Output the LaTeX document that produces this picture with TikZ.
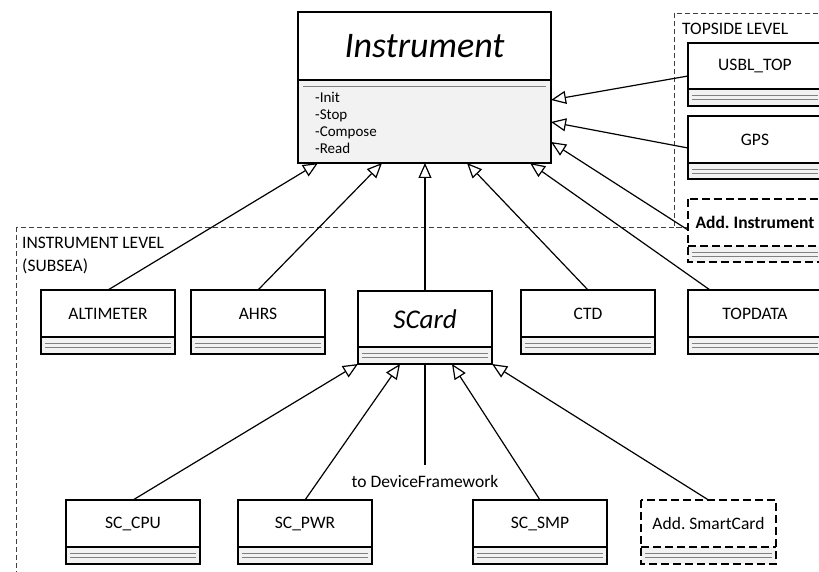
\documentclass[tikz,border=0pt]{standalone}
\usepackage{fontspec}
\setmainfont{Carlito}
\usetikzlibrary{arrows.meta}
\frenchspacing

\definecolor{bodyfill}{HTML}{F2F2F2}
\definecolor{rulegray}{HTML}{808080}
\definecolor{framegray}{HTML}{404040}

\newcommand\lblfont{\fontsize{17.5}{21}\selectfont}

\tikzset{
  frame/.style={draw=black, line width=1.3pt, line join=miter},
  dframe/.style={draw=black, line width=1.6pt, dash pattern=on 8pt off 4pt},
  bodyrule/.style={draw=rulegray, line width=0.8pt},
  container/.style={draw=framegray, line width=0.8pt, dash pattern=on 5pt off 3pt},
  anchorbox/.style={inner sep=0pt, outer sep=0pt, anchor=north west},
  lbl/.style={font=\lblfont, inner sep=0pt},
  meth/.style={font=\fontsize{15}{18}\selectfont, inner sep=0pt, anchor=base west},
  conn/.style={draw=black, line width=1.2pt},
  inherit/.style={conn, -{Triangle[length=15pt, width=13pt, fill=white]}, line join=miter},
}

% #1 name, #2 left, #3 top, #4 width, #5 head height, #6 body height,
% #7 label, #8 label font, #9 border style
\newcommand\umlclass[9]{%
  \fill[white] (#2,#3) rectangle ++(#4,#5);
  \fill[bodyfill] (#2,#3+#5) rectangle ++(#4,#6);
  \draw[bodyrule] (#2+4,#3+#5+6) -- ++(#4-8,0);
  \draw[bodyrule] (#2+4,#3+#5+10) -- ++(#4-8,0);
  \draw[#9] (#2,#3) rectangle ++(#4,#5+#6);
  \draw[#9] (#2,#3+#5) -- ++(#4,0);
  \node[anchorbox, minimum width=#4pt, minimum height=#5pt+#6pt] (#1) at (#2,#3) {};
  \node[lbl, font=#8] (#1-t) at (#2+#4/2,#3+#5/2) {#7};
}

\begin{document}
\begin{tikzpicture}[x=1pt, y=-1pt]
\useasboundingbox (0,0) rectangle (819,572);
\clip (0,0) rectangle (819,572);

% level containers
\draw[container] (674,13) rectangle (860,227);
\draw[container] (16,227) rectangle (860,620);
\node[lbl, anchor=west] (toplvl) at (682,29) {TOPSIDE LEVEL};
\node[lbl, anchor=west] (sublvl) at (22,243) {INSTRUMENT LEVEL};
\node[lbl, anchor=west] (sublvl2) at (22,266) {(SUBSEA)};

% abstract base class
\fill[white] (298,12) rectangle (551,80);
\fill[bodyfill] (298,80) rectangle (551,163);
\draw[bodyrule] (303,86) -- (546,86);
\draw[frame] (298,12) rectangle (551,163);
\draw[frame] (298,80) -- (551,80);
\node[anchorbox, minimum width=253pt, minimum height=151pt] (inst) at (298,12) {};
\node[font=\fontsize{36}{42}\selectfont\itshape, inner sep=0pt] (inst-t) at (424.5,46) {Instrument};
\node[meth] (m1) at (315,103) {-Init};
\node[meth] (m2) at (315,120) {-Stop};
\node[meth] (m3) at (315,137) {-Compose};
\node[meth] (m4) at (315,154) {-Read};

% topside instruments
\umlclass{usbl}{688}{43}{134}{46}{17}{USBL\_TOP}{\lblfont}{frame}
\umlclass{gps}{688}{116}{134}{47}{16}{GPS}{\lblfont}{frame}
\umlclass{addinst}{688}{199}{134}{47}{16}{Add. Instrument}{\lblfont\bfseries}{dframe}

% subsea instruments
\umlclass{alt}{41}{290}{134}{47}{17}{ALTIMETER}{\lblfont}{frame}
\umlclass{ahrs}{191}{290}{134}{47}{17}{AHRS}{\lblfont}{frame}
\umlclass{scard}{358}{291}{134}{56}{17}{SCard}{\fontsize{27}{32}\selectfont\itshape}{frame}
\umlclass{ctd}{521}{290}{134}{47}{17}{CTD}{\lblfont}{frame}
\umlclass{topdata}{688}{290}{134}{47}{17}{TOPDATA}{\lblfont}{frame}

% smart cards
\umlclass{cpu}{66}{500}{134}{47}{17}{SC\_CPU}{\lblfont}{frame}
\umlclass{pwr}{238}{500}{134}{47}{17}{SC\_PWR}{\lblfont}{frame}
\umlclass{smp}{473}{500}{134}{47}{17}{SC\_SMP}{\lblfont}{frame}
\umlclass{addsc}{641}{500}{135}{47}{17}{Add. SmartCard}{\lblfont}{dframe}

% generalisations to Instrument
\draw[inherit] (alt.north) -- ([xshift=20pt]inst.south west);
\draw[inherit] (ahrs.north) -- ([xshift=84pt]inst.south west);
\draw[inherit] (scard.north) -- (scard.north |- inst.south);
\draw[inherit] (ctd.north) -- ([xshift=169pt]inst.south west);
\draw[inherit] ([xshift=22pt]topdata.north west) -- ([xshift=232pt]inst.south west);
\draw[inherit] ([yshift=-33pt]usbl.north west) -- ([yshift=63pt]inst.south east);
\draw[inherit] ([yshift=-32pt]gps.north west) -- ([yshift=41pt]inst.south east);
\draw[inherit] ([yshift=-31pt]addinst.north west) -- ([yshift=21pt]inst.south east);

% generalisations to SCard
\draw[inherit] (cpu.north) -- (scard.south west);
\draw[inherit] (pwr.north) -- ([xshift=42pt]scard.south west);
\draw[inherit] (smp.north) -- ([xshift=-40pt]scard.south east);
\draw[inherit] (addsc.north) -- (scard.south east);

% link to the device framework
\node[lbl, anchor=north, outer ysep=10pt] (dfw) at (425,465) {to DeviceFramework};
\draw[conn] (scard.south) -- (dfw.north);
\end{tikzpicture}
\end{document}
